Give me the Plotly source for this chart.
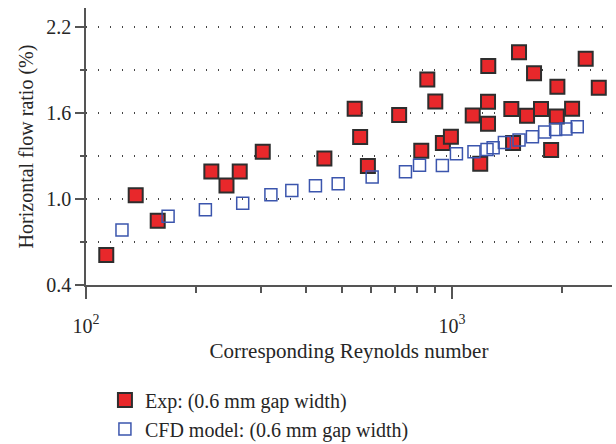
import plotly.graph_objects as go

# Experimental horizontal flow ratio vs corresponding Reynolds number
exp_re = [113.6, 136.7, 157, 220, 242, 263, 304, 448, 542, 561, 589, 717, 824,
          856, 900, 944, 993, 1139, 1194, 1256, 1254, 1254, 1468, 1452, 1524,
          1603, 1675, 1750, 1865, 1933, 1940, 2128, 2318, 2517]
exp_ratio = [0.609, 1.026, 0.847, 1.19, 1.093, 1.19, 1.328, 1.281, 1.628, 1.431,
             1.23, 1.584, 1.335, 1.831, 1.679, 1.389, 1.433, 1.581, 1.244, 1.926,
             1.677, 1.524, 1.389, 1.626, 2.021, 1.579, 1.875, 1.626, 1.34, 1.574,
             1.782, 1.628, 1.977, 1.775]

# CFD model results
cfd_re = [125.4, 167.6, 211.9, 268, 320, 365, 423.5, 488.6, 605, 746, 815, 941,
          1028, 1148, 1246, 1295, 1390, 1524, 1658, 1791, 1919, 2047, 2198]
cfd_ratio = [0.784, 0.879, 0.925, 0.97, 1.028, 1.058, 1.091, 1.105, 1.152, 1.189,
             1.235, 1.233, 1.314, 1.328, 1.344, 1.356, 1.393, 1.41, 1.433, 1.466,
             1.484, 1.487, 1.503]

y_ticks = [0.4, 1.0, 1.6, 2.2]
x_ticks = [100, 1000]
x_tick_text = ["10<sup>2</sup>", "10<sup>3</sup>"]
x_minor = [200, 300, 400, 500, 600, 700, 800, 900, 2000]

FONT = "Liberation Serif, Times New Roman, serif"
AXIS = "#555555"
GRID = "#444444"

fig = go.Figure()
fig.add_trace(go.Scatter(
    x=exp_re, y=exp_ratio, mode="markers", name="Exp: (0.6 mm gap width)",
    marker=dict(symbol="square", size=14, color="#e8282b",
                line=dict(color="#2e2e2e", width=2)),
))
fig.add_trace(go.Scatter(
    x=cfd_re, y=cfd_ratio, mode="markers", name="CFD model: (0.6 mm gap width)",
    marker=dict(symbol="square-open", size=12, color="#3b55ad",
                line=dict(color="#3b55ad", width=1.5)),
))

fig.update_layout(
    width=616, height=444,
    margin=dict(l=86, r=4, t=8, b=159),
    paper_bgcolor="white", plot_bgcolor="white",
    font=dict(family=FONT, size=20, color="#262626"),
    showlegend=True,
    legend=dict(x=0.036, y=0.143, xanchor="left", yanchor="top", yref="container",
                font=dict(family=FONT, size=20, color="#262626"),
                bgcolor="rgba(0,0,0,0)", tracegroupgap=0, itemsizing="trace"),
    xaxis=dict(
        type="log", range=[2.0, 3.437],
        tickvals=x_ticks, ticktext=x_tick_text,
        ticks="outside", ticklen=12, tickwidth=1.5, tickcolor=AXIS,
        ticklabelstandoff=10,
        showline=True, linecolor=AXIS, linewidth=1.5,
        showgrid=False, zeroline=False,
        tickfont=dict(family=FONT, size=20),
        minor=dict(tickvals=x_minor, ticks="outside", ticklen=6,
                   tickwidth=1.5, tickcolor=AXIS, showgrid=False),
        title=dict(text="Corresponding Reynolds number",
                   font=dict(family=FONT, size=21), standoff=8),
    ),
    yaxis=dict(
        range=[0.4, 2.33],
        tickvals=y_ticks, tickformat=".1f",
        ticks="outside", ticklen=9, tickwidth=1.5, tickcolor=AXIS,
        showline=True, linecolor=AXIS, linewidth=1.5,
        showgrid=True, gridcolor=GRID, gridwidth=1.5, griddash="1px,11px",
        zeroline=False,
        tickfont=dict(family=FONT, size=20),
        minor=dict(dtick=0.3, tick0=0.4, showgrid=True, gridcolor=GRID,
                   gridwidth=1.5, griddash="1px,11px",
                   ticks="outside", ticklen=4, tickwidth=1.5, tickcolor=AXIS),
        title=dict(text="Horizontal flow ratio (%)",
                   font=dict(family=FONT, size=20), standoff=7),
    ),
)

fig.write_html("out.html")
